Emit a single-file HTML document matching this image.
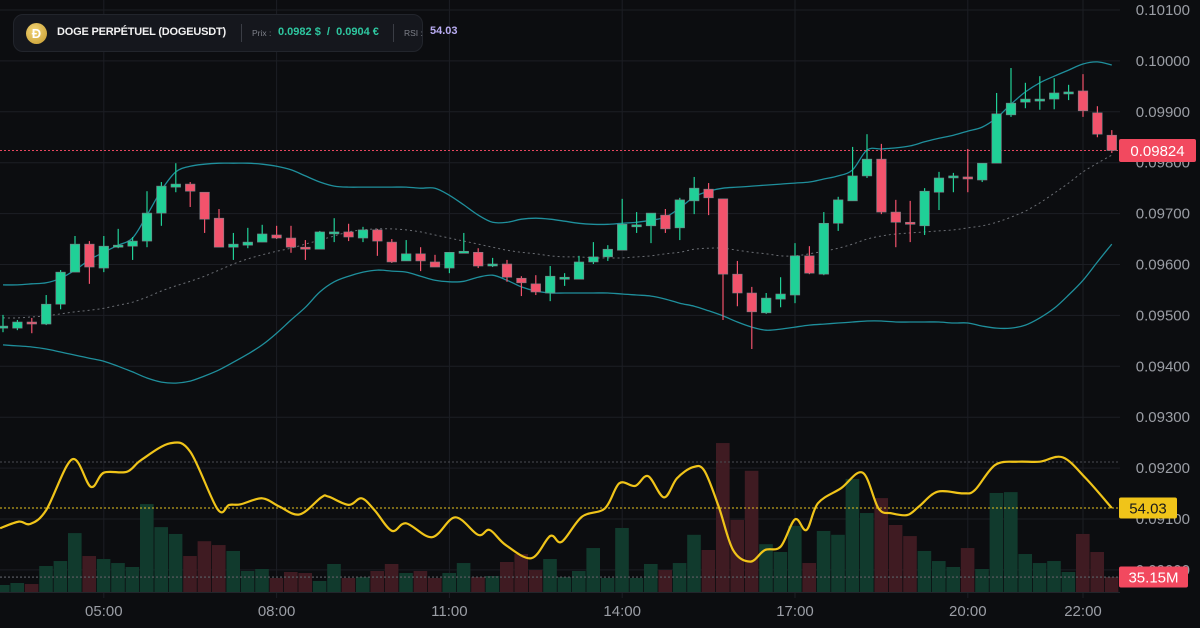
<!DOCTYPE html>
<html><head><meta charset="utf-8">
<style>
html,body{margin:0;padding:0;background:#0c0d10;}
#wrap{position:relative;width:1200px;height:628px;overflow:hidden;background:#0c0d10;font-family:"Liberation Sans",sans-serif;}
svg text{font-family:"Liberation Sans",sans-serif;}
#hdr{position:absolute;left:13px;top:14px;width:410px;height:38px;border-radius:10px;background:#15171d;border:1px solid #22252c;box-sizing:border-box;}
#hdr div{white-space:nowrap;}
</style></head>
<body>
<div id="wrap">
<svg id="chart" width="1200" height="628" viewBox="0 0 1200 628" xmlns="http://www.w3.org/2000/svg"></svg>
<div id="hdr">
  <div style="position:absolute;left:12px;top:8px;width:21px;height:21px;border-radius:50%;background:radial-gradient(circle at 40% 35%,#f2d477,#c49a2c);color:#fff;font-weight:bold;font-size:13px;line-height:21px;text-align:center;">Ð</div>
  <div style="position:absolute;left:43px;top:11px;color:#f2f2f2;font-weight:bold;font-size:11px;letter-spacing:-0.2px;">DOGE PERPÉTUEL (DOGEUSDT)</div>
  <div style="position:absolute;left:227px;top:9px;width:1px;height:18px;background:#3a3d45;"></div>
  <div style="position:absolute;left:238px;top:13px;color:#7d8089;font-size:8.5px;">Prix :</div>
  <div style="position:absolute;left:264px;top:11px;color:#2ec7a0;font-weight:bold;font-size:11px;">0.0982 $ &nbsp;/&nbsp; 0.0904 €</div>
  <div style="position:absolute;left:379px;top:9px;width:1px;height:18px;background:#3a3d45;"></div>
  <div style="position:absolute;left:390px;top:13px;color:#7d8089;font-size:8.5px;">RSI :</div>
</div>
<div style="position:absolute;left:430px;top:25px;color:#b9acf2;font-weight:bold;font-size:11px;">54.03</div>
</div>
<script>
// ---- data (prices in units of 0.00001) ----
const opens  = [9475,9475,9487,9483,9522,9585,9640,9593,9634,9636,9646,9701,9752,9758,9742,9691,9634,9638,9644,9658,9652,9634,9630,9662,9664,9652,9668,9644,9607,9621,9605,9593,9622,9624,9599,9601,9573,9562,9544,9571,9571,9605,9615,9628,9674,9676,9697,9672,9725,9748,9729,9581,9544,9505,9532,9540,9617,9581,9681,9725,9774,9807,9703,9683,9676,9742,9772,9772,9766,9799,9894,9919,9923,9925,9937,9941,9898,9854];
const closes = [9479,9487,9485,9522,9585,9640,9595,9636,9638,9646,9701,9754,9758,9744,9689,9634,9640,9644,9660,9652,9634,9630,9664,9664,9654,9668,9646,9605,9621,9607,9595,9624,9626,9597,9601,9575,9564,9546,9577,9575,9605,9615,9630,9679,9678,9701,9670,9727,9750,9731,9581,9544,9507,9534,9542,9617,9583,9681,9727,9774,9807,9703,9683,9679,9744,9770,9774,9768,9799,9896,9917,9925,9925,9937,9939,9902,9856,9824];
const highs  = [9501,9491,9495,9540,9589,9656,9646,9656,9670,9654,9744,9762,9799,9762,9742,9709,9662,9672,9678,9676,9676,9648,9666,9691,9680,9674,9670,9650,9648,9634,9619,9624,9662,9632,9613,9609,9577,9579,9597,9583,9617,9644,9638,9729,9703,9701,9709,9731,9772,9760,9729,9607,9556,9544,9575,9642,9636,9703,9733,9831,9856,9837,9727,9725,9750,9782,9780,9827,9799,9937,9986,9957,9970,9966,9953,9974,9911,9864];
const lows   = [9467,9471,9465,9481,9512,9585,9562,9585,9632,9609,9634,9676,9742,9713,9662,9634,9609,9632,9644,9650,9623,9609,9630,9644,9646,9644,9617,9603,9607,9587,9595,9583,9622,9593,9595,9566,9538,9540,9528,9558,9571,9601,9607,9628,9662,9642,9662,9648,9699,9697,9491,9518,9434,9503,9516,9524,9581,9579,9666,9725,9770,9699,9634,9644,9658,9707,9742,9742,9762,9799,9890,9907,9904,9905,9923,9890,9850,9819];
const bbUpper = [9560,9560,9562,9564,9573,9589,9609,9624,9638,9652,9697,9746,9782,9793,9797,9799,9799,9799,9797,9793,9786,9774,9762,9754,9752,9752,9752,9752,9752,9750,9750,9736,9717,9697,9683,9683,9689,9691,9689,9685,9681,9679,9679,9681,9683,9687,9693,9711,9733,9744,9750,9752,9754,9756,9758,9760,9762,9768,9774,9786,9825,9827,9829,9833,9841,9848,9854,9862,9870,9888,9915,9939,9957,9970,9982,9994,9998,9992];
const bbMiddle = [9495,9495,9497,9499,9503,9507,9510,9514,9520,9526,9536,9548,9558,9567,9577,9589,9601,9611,9619,9626,9632,9640,9648,9656,9664,9668,9670,9670,9668,9664,9658,9652,9646,9640,9634,9628,9624,9621,9617,9615,9615,9613,9613,9613,9615,9617,9621,9624,9630,9632,9632,9628,9624,9621,9617,9617,9621,9626,9632,9640,9650,9656,9660,9662,9664,9666,9668,9672,9676,9683,9693,9705,9721,9740,9760,9782,9799,9815];
const bbLower = [9442,9440,9438,9434,9428,9422,9416,9410,9400,9389,9377,9369,9367,9371,9381,9393,9408,9424,9442,9465,9491,9516,9546,9566,9577,9585,9589,9587,9585,9577,9569,9566,9567,9575,9579,9569,9556,9548,9544,9544,9544,9544,9544,9542,9540,9538,9532,9524,9518,9509,9499,9487,9477,9471,9473,9477,9481,9483,9485,9487,9489,9489,9487,9487,9487,9487,9485,9485,9479,9475,9475,9481,9495,9514,9540,9569,9605,9640];
const volumes = [16.4,21.1,18.7,60.9,72.6,138,84.3,77.3,67.9,58.6,206,152,136,84.3,119,110,96.1,49.2,53.9,32.8,46.9,44.5,25.8,65.6,32.8,35.1,49.2,65.6,44.5,49.2,32.8,44.5,67.9,35.1,37.5,70.3,89,51.5,77.3,35.1,49.2,103,32.8,150,32.8,65.6,51.5,67.9,134,98.4,349,169,284,112,93.7,155,67.9,143,134,265,185,220,157,131,96.1,72.6,58.6,103,53.9,232,234,89,67.9,72.6,46.9,136,93.7,35.15];
const rsiTime = [-0.2,1.1,1.9,3.0,4.8,6.1,7.0,8.6,9.6,11.6,13.0,14.9,15.7,16.5,18.0,19.2,20.6,22.1,22.6,24.0,24.9,25.8,27.0,28.0,29.8,31.4,33.0,33.8,34.9,36.7,38.0,38.8,40.2,41.8,42.8,43.9,44.8,45.9,46.8,47.9,48.7,49.7,50.7,51.9,52.9,54.0,55.0,55.8,56.6,58.2,59.7,60.8,61.7,62.8,63.6,64.9,66.7,67.5,68.9,70.5,72.0,73.6,75.2,77.0];
const rsiValues = [47.0,49.3,48.5,53.3,70.9,61.4,66.3,66.6,70.7,76.5,73.6,53.6,55.1,55.3,57.4,54.5,51.8,57.7,58.0,55.1,57.4,53.3,46.1,48.7,43.9,50.8,44.7,46.4,41.2,36.6,44.3,42.3,51.0,53.9,62.6,61.7,65.1,57.7,64.3,68.2,67.0,54.5,39.4,35.4,39.4,40.6,50.1,46.4,55.7,60.9,66.3,53.9,52.2,51.6,54.5,59.7,59.1,60.3,69.0,70.1,70.1,71.6,64.3,54.03];
const priceTicks = [10100,10000,9900,9800,9700,9600,9500,9400,9300,9200,9100,9000];
const timeLabels = ["05:00","08:00","11:00","14:00","17:00","20:00","22:00"];
const timeIndex = [7,19,31,43,55,67,75];
const lastPrice = 9824, lastRsi = 54.03, lastVolume = 35.15;

// ---- scales ----
const xOf = i => 3 + 14.4*i;
const yP = p => 10 + (10100 - p)*0.509;
const yR = v => 462 + (70 - v)*2.88;
const yV = v => 592 - v/2.343;
const plotRight = 1120;

const svg = document.getElementById('chart');
const NS = 'http://www.w3.org/2000/svg';
function mk(tag, attrs, parent){ const e=document.createElementNS(NS,tag); for(const k in attrs) e.setAttribute(k,attrs[k]); (parent||svg).appendChild(e); return e; }
function smooth(pts){ let d='M'+pts[0][0].toFixed(1)+','+pts[0][1].toFixed(1);
  for(let i=0;i<pts.length-1;i++){const p0=pts[i-1]||pts[i],p1=pts[i],p2=pts[i+1],p3=pts[i+2]||p2;
   const c1x=p1[0]+(p2[0]-p0[0])/6,c1y=p1[1]+(p2[1]-p0[1])/6,c2x=p2[0]-(p3[0]-p1[0])/6,c2y=p2[1]-(p3[1]-p1[1])/6;
   d+=' C'+c1x.toFixed(1)+','+c1y.toFixed(1)+' '+c2x.toFixed(1)+','+c2y.toFixed(1)+' '+p2[0].toFixed(1)+','+p2[1].toFixed(1);} return d; }

// grid
const grid = mk('g',{});


priceTicks.forEach(p=>{ const l=mk('line',{x1:0,x2:plotRight,y1:yP(p),y2:yP(p),stroke:'#1c1e24','stroke-width':1},grid);
    });
timeIndex.forEach(t=>{ const l=mk('line',{x1:xOf(t),x2:xOf(t),y1:0,y2:598,stroke:'#1c1e24','stroke-width':1},grid);
    });

// volume bars
const vg = mk('g',{});


volumes.forEach((v,i)=>{ const up=closes[i]>=opens[i];
  const r=mk('rect',{x:xOf(i)-7,y:yV(v),width:13.6,height:592-yV(v),fill:up?'#113a2d':'#3f1b22'},vg);
    });

// RSI reference lines
[[yR(70),'#4a4c52'],[yR(30),'#4a4c52']].forEach(a=>{ const l=mk('line',{x1:0,x2:plotRight,y1:a[0],y2:a[0],stroke:a[1],'stroke-width':1,'stroke-dasharray':'2,2'});
    });
const vline=mk('line',{x1:0,x2:plotRight,y1:yV(lastVolume),y2:yV(lastVolume),stroke:'#5a5c62','stroke-width':1,'stroke-dasharray':'2,2'});
 
mk('line',{x1:0,x2:plotRight,y1:592.5,y2:592.5,stroke:'#22252b','stroke-width':1});

// bollinger
function band(arr,name,dash,color,w){ const p=mk('path',{d:smooth(arr.map((v,i)=>[xOf(i),yP(v)])),fill:'none',stroke:color,'stroke-width':w});
  if(dash) p.setAttribute('stroke-dasharray',dash);
    }
band(bbUpper,'bollinger-upper',null,'#1f8f9c',1.3);
band(bbLower,'bollinger-lower',null,'#1f8f9c',1.3);
band(bbMiddle,'bollinger-middle','2,3','#6b6e74',1);

// price line
const pl=mk('line',{x1:0,x2:plotRight,y1:yP(lastPrice),y2:yP(lastPrice),stroke:'#e8475f','stroke-width':1,'stroke-dasharray':'2,2'});
 

// candles
const cg = mk('g',{});


opens.forEach((o,i)=>{ const c=closes[i], up=c>=o, col=up?'#20d097':'#f2536c', x=xOf(i);
  const w=mk('line',{x1:x,x2:x,y1:yP(highs[i]),y2:yP(lows[i]),stroke:col,'stroke-width':1.2},cg);
   
  const top=yP(Math.max(o,c)), h=Math.max(2,Math.abs(yP(o)-yP(c)));
  const b=mk('rect',{x:x-4.8,y:top,width:9.6,height:h,fill:col,stroke:'#7b7f86','stroke-width':0.6},cg);
    });

// RSI line
const rl=mk('line',{x1:0,x2:plotRight,y1:yR(lastRsi),y2:yR(lastRsi),stroke:'#e6c21e','stroke-width':1,'stroke-dasharray':'2,2'});
 
const rp=mk('path',{d:smooth(rsiTime.map((t,i)=>[xOf(t),yR(rsiValues[i])])),fill:'none',stroke:'#f0c419','stroke-width':2.2});
 

// price axis labels
priceTicks.forEach(p=>{ const t=mk('text',{x:1190,y:yP(p)+5,'text-anchor':'end',fill:'#9b9ea5','font-size':15});
  t.textContent=(p/100000).toFixed(5);
    });
// time labels
timeIndex.forEach((ti,k)=>{ const t=mk('text',{x:xOf(ti),y:616,'text-anchor':'middle',fill:'#9b9ea5','font-size':15});
  t.textContent=timeLabels[k];
    });

// badges
function badge(y,h,w,bg,fg,txt,name){ const g=mk('g',{});
   
  mk('rect',{x:1119,y:y-h/2,width:w,height:h,rx:2,fill:bg},g);
  const t=mk('text',{x:1119+w/2,y:y+5.5,'text-anchor':'middle',fill:fg,'font-size':15},g); t.textContent=txt; }
badge(yP(lastPrice),23,77,'#f2495f','#ffffff',(lastPrice/100000).toFixed(5),'last-price-badge');
badge(yR(lastRsi),21,58,'#f0c419','#1a1a1a',lastRsi.toFixed(2),'rsi-value-badge');
badge(yV(lastVolume),21,69,'#f2495f','#ffffff',lastVolume.toFixed(2)+'M','volume-value-badge');
</script>
</body></html>
